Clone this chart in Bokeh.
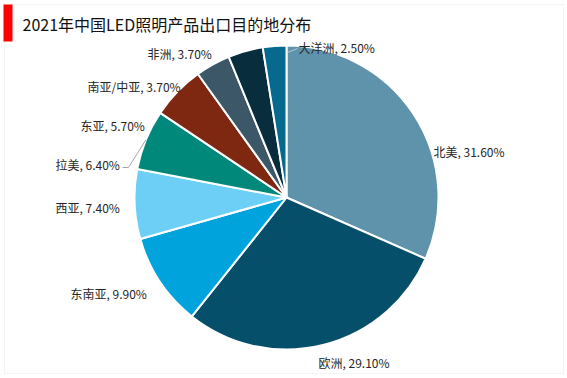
import math
from bokeh.plotting import figure
from bokeh.models import Range1d, Label, BoxAnnotation, ColumnDataSource
from bokeh.embed import file_html
from bokeh.resources import INLINE
from bokeh.core.properties import value

# ---- data ----
title = "2021年中国LED照明产品出口目的地分布"
regions = ["北美", "欧洲", "东南亚", "西亚", "拉美", "东亚", "南亚/中亚", "非洲", "大洋洲"]
shares = [31.6, 29.1, 9.9, 7.4, 6.4, 5.7, 3.7, 3.7, 2.5]
colors = ["#5E93AB", "#064F6B", "#00A3DC", "#6DCFF6", "#00897B",
          "#7E2812", "#3C5868", "#082E3E", "#06698E"]

# ---- layout (pixels) ----
W, H = 567, 378
CX, CY, R = 286, 197, 152
# label anchor (left x, center y) in screen pixels
label_pos = [(433, 151), (318, 362), (70, 293), (55, 207), (55, 164),
             (80, 125), (87, 86), (147, 53), (298, 47)]
FONT = "Noto Sans CJK SC"

def fy(py):
    return H - py

p = figure(width=W, height=H, output_backend="svg", toolbar_location=None,
           x_range=Range1d(0, W), y_range=Range1d(0, H), min_border=0)
p.axis.visible = False
p.grid.visible = False
p.outline_line_color = None
p.background_fill_color = "white"
p.border_fill_color = "white"

total = sum(shares)
starts, ends = [], []
cum = 0.0
for s in shares:
    starts.append(math.pi / 2 - cum / total * 2 * math.pi)
    cum += s
    ends.append(math.pi / 2 - cum / total * 2 * math.pi)

src = ColumnDataSource(dict(x=[CX] * len(shares), y=[fy(CY)] * len(shares),
                            start=starts, end=ends, color=colors))
p.wedge(x="x", y="y", radius=R, start_angle="start", end_angle="end",
        direction="clock", fill_color="color", line_color="white",
        line_width=2, source=src)

# leader line for 拉美
i = regions.index("拉美")
mid = (starts[i] + ends[i]) / 2
rx, ry = CX + R * math.cos(mid), fy(CY) + R * math.sin(mid)
lx, ly = label_pos[i]
p.line([rx, lx + 73, lx + 67], [ry, fy(ly + 3), fy(ly + 3)], line_color="#a6a6a6", line_width=1)

# leader line for 大洋洲
j = regions.index("大洋洲")
lx, ly = label_pos[j]
p.line([CX + 1, lx - 1], [fy(ly + 5), fy(ly + 1)], line_color="#b8c8d0", line_width=1)

for name, s, (lx, ly) in zip(regions, shares, label_pos):
    p.add_layout(Label(x=lx, y=fy(ly), text=f"{name}, {s:.2f}%",
                       text_font=FONT, text_font_size="12px",
                       text_color="#262626", text_baseline="middle",
                       text_align="left"))

# frame border and title bar
p.add_layout(BoxAnnotation(left=4, right=563, bottom=fy(373), top=fy(4),
                           fill_alpha=0, line_color="#d9d9d9", line_width=1))
p.add_layout(BoxAnnotation(left=3, right=12, bottom=fy(41), top=fy(4),
                           fill_color="#ff0000", fill_alpha=1, line_color=None))
p.add_layout(Label(x=22, y=fy(23), text=title, text_font=FONT,
                   text_font_size="16px", text_color="#111111",
                   text_baseline="middle", text_align="left"))

open("out.html", "w").write(file_html(p, INLINE))
